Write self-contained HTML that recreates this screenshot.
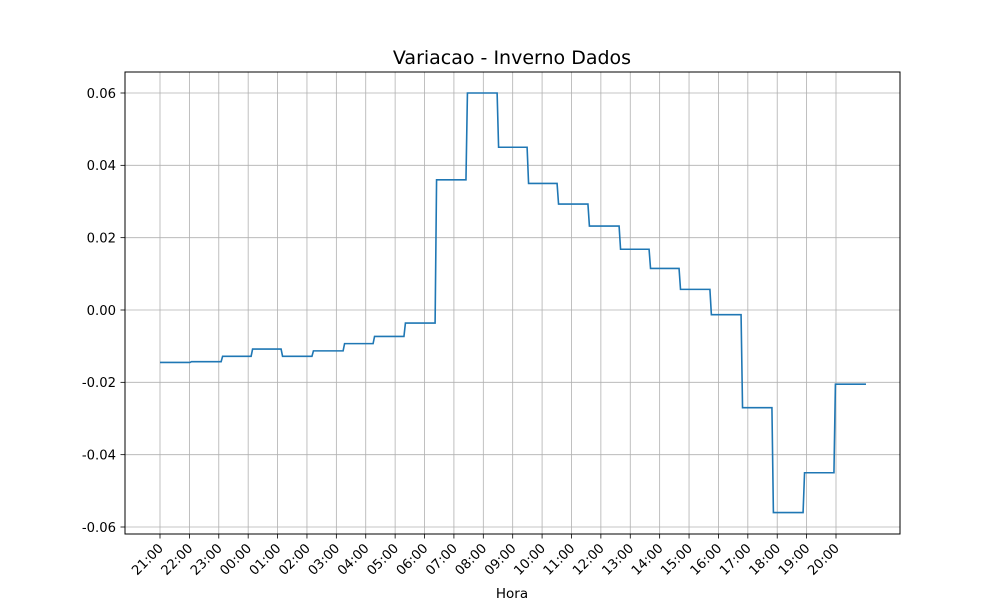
<!DOCTYPE html>
<html><head><meta charset="utf-8"><style>
body{margin:0;background:#fff;}
svg text{font-family:"DejaVu Sans","Liberation Sans",sans-serif;}
</style></head><body>
<svg id="chart" width="1000" height="600" xmlns="http://www.w3.org/2000/svg">
<rect width="1000" height="600" fill="#fff"/>
<g id="grid"></g>
<g id="series"></g>
<rect x="125" y="72" width="775" height="462" fill="none" stroke="#000" stroke-width="1"/>
<g id="ticks"></g>
<text x="512" y="64" text-anchor="middle" font-size="19">Variacao - Inverno Dados</text>
<text x="512" y="598" text-anchor="middle" font-size="13.5">Hora</text>
</svg>
<script>
const xLabels=["21:00","22:00","23:00","00:00","01:00","02:00","03:00","04:00","05:00","06:00","07:00","08:00","09:00","10:00","11:00","12:00","13:00","14:00","15:00","16:00","17:00","18:00","19:00","20:00"];
const yTicks=[-0.06,-0.04,-0.02,0.00,0.02,0.04,0.06];
const levels=[-0.0145,-0.0143,-0.0128,-0.0108,-0.0128,-0.0113,-0.0093,-0.0073,-0.0036,0.036,0.060,0.045,0.035,0.0293,0.0232,0.0168,0.0115,0.0057,-0.0013,-0.027,-0.056,-0.045,-0.0205];
const changeTimes=[1.02,2.08,3.10,4.12,5.17,6.23,7.25,8.30,9.36,10.41,11.47,12.49,13.51,14.56,15.62,16.64,17.66,18.71,19.77,20.82,21.88,22.93];
const endTime=24.02;
const NS="http://www.w3.org/2000/svg";
const X=h=>160+h*(836-160)/23;
const Y=v=>310-v*(217/0.06);
const grid=document.getElementById('grid'),ticks=document.getElementById('ticks'),series=document.getElementById('series');
function mk(tag,attrs,parent){const e=document.createElementNS(NS,tag);for(const k in attrs)e.setAttribute(k,attrs[k]);parent.appendChild(e);return e;}
xLabels.forEach((l,i)=>{
  const x=X(i);
  const g=mk('line',{x1:x,x2:x,y1:72,y2:534,stroke:'#b0b0b0','stroke-width':0.8},grid);
  
  
  const t=mk('line',{x1:x,x2:x,y1:534,y2:538.5,stroke:'#000','stroke-width':0.8},ticks);
  
  
  const tx=mk('text',{x:0,y:0,'font-size':13.2,'text-anchor':'end',transform:`translate(${x+4},${549}) rotate(-45)`},ticks);
  tx.textContent=l;
  
  
});
yTicks.forEach(v=>{
  const y=Y(v);
  const g=mk('line',{x1:125,x2:900,y1:y,y2:y,stroke:'#b0b0b0','stroke-width':0.8},grid);
  
  
  const t=mk('line',{x1:120.5,x2:125,y1:y,y2:y,stroke:'#000','stroke-width':0.8},ticks);
  
  
  const tx=mk('text',{x:116,y:y+4.8,'font-size':13.2,'text-anchor':'end'},ticks);
  tx.textContent=v.toFixed(2);
  
  
});
let pts=[[X(0),Y(levels[0])]];
changeTimes.forEach((t,i)=>{
  pts.push([X(t),Y(levels[i])]);
  pts.push([X(t+0.05),Y(levels[i+1])]);
});
pts.push([X(endTime),Y(levels[levels.length-1])]);
const p=mk('polyline',{points:pts.map(q=>q.join(',')).join(' '),fill:'none',stroke:'#1f77b4','stroke-width':1.6},series);


</script>
</body></html>
